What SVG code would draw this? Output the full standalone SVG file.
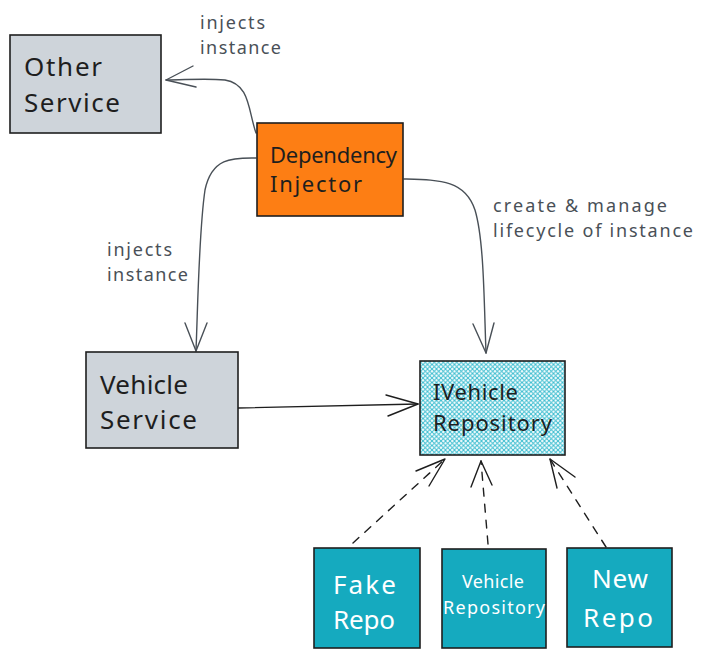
<svg xmlns="http://www.w3.org/2000/svg" width="704" height="670" viewBox="0 0 704 670">
<style>
.box{stroke:#1e1e1e;stroke-width:1.6}
.gray{fill:#ced4da}
.orange{fill:#fd7e14}
.teal{fill:#15aabf}
.t{font-family:"Noto Sans","Liberation Sans",sans-serif;fill:#1e1e1e}
.w{fill:#ffffff}
.lbl{font-family:"Noto Sans","Liberation Sans",sans-serif;fill:#495057;font-size:18px}
.c{fill:none;stroke:#495057;stroke-width:1.4;stroke-linecap:round}
.k{fill:none;stroke:#1e1e1e;stroke-width:1.4;stroke-linecap:round}
.d{stroke-dasharray:8 8}
</style>
<defs>
<pattern id="hatch" width="4.5" height="4.5" patternUnits="userSpaceOnUse">
<rect width="4.5" height="4.5" fill="#ffffff"/>
<path d="M0,4.5 L4.5,0 M-1,1 L1,-1 M3.5,5.5 L5.5,3.5" stroke="#3bbdd0" stroke-width="1"/>
<path d="M0,0 L4.5,4.5 M-1,3.5 L1,5.5 M3.5,-1 L5.5,1" stroke="#3bbdd0" stroke-width="1"/>
</pattern>
</defs>
<g id="connectors">
<path class="c" d="M256,133 C248,110 250,84 225,80 C205,78 185,80 166,80"/>
<path class="c" d="M166,80 L193,66 M166,80 L196,87"/>
<path class="c" d="M256,158 C235,158 212,156 205,190 C199,230 198,300 196,351"/>
<path class="c" d="M196,351 L185,323 M196,351 L207,323"/>
<path class="c" d="M404,179 C440,180 465,180 475,210 C484,240 484,300 486,353"/>
<path class="c" d="M486,353 L473,324 M486,353 L494,323"/>
<path class="k" d="M238,408 L418,404"/>
<path class="k" d="M418,404 L386,395 M418,404 L388,416"/>
<path class="k d" d="M353,543 L445,459"/>
<path class="k" d="M445,459 L416,471 M445,459 L429,486"/>
<path class="k d" d="M488,544 L481,461"/>
<path class="k" d="M481,461 L471,487 M481,461 L492,485"/>
<path class="k d" d="M606,547 L550,459"/>
<path class="k" d="M550,459 L557,488 M550,459 L575,477"/>
</g>
<g id="other-service">
<rect class="box gray" x="10" y="35" width="151" height="98"/>
<text class="t" x="24" y="76" font-size="26" textLength="78">Other</text>
<text class="t" x="24" y="112" font-size="26" textLength="96">Service</text>
</g>
<g id="dependency-injector">
<rect class="box orange" x="257" y="123" width="146" height="93"/>
<text class="t" x="270" y="163" font-size="22" textLength="127">Dependency</text>
<text class="t" x="270" y="192" font-size="22" textLength="92">Injector</text>
</g>
<g id="vehicle-service">
<rect class="box gray" x="86" y="352" width="152" height="96"/>
<text class="t" x="100" y="394" font-size="26" textLength="88">Vehicle</text>
<text class="t" x="100" y="429" font-size="26" textLength="97">Service</text>
</g>
<g id="ivehicle-repository">
<rect class="box" fill="url(#hatch)" x="420" y="361" width="145" height="94"/>
<text class="t" x="433" y="400" font-size="22" textLength="85">IVehicle</text>
<text class="t" x="433" y="431" font-size="22" textLength="119">Repository</text>
</g>
<g id="fake-repo">
<rect class="box teal" x="314" y="548" width="106" height="100"/>
<text class="t w" x="333" y="594" font-size="26" textLength="63">Fake</text>
<text class="t w" x="333" y="629" font-size="26" textLength="62">Repo</text>
</g>
<g id="vehicle-repository">
<rect class="box teal" x="442" y="549" width="104" height="99"/>
<text class="t w" x="462" y="588" font-size="18" textLength="62">Vehicle</text>
<text class="t w" x="443" y="614" font-size="18" textLength="102">Repository</text>
</g>
<g id="new-repo">
<rect class="box teal" x="567" y="548" width="105" height="99"/>
<text class="t w" x="592" y="588" font-size="26" textLength="56">New</text>
<text class="t w" x="583" y="627" font-size="26" textLength="70">Repo</text>
</g>
<g id="labels">
<text class="lbl" x="200" y="29" textLength="65">injects</text>
<text class="lbl" x="200" y="54" textLength="81">instance</text>
<text class="lbl" x="107" y="256" textLength="65">injects</text>
<text class="lbl" x="107" y="281" textLength="81">instance</text>
<text class="lbl" x="493" y="212" textLength="174">create &amp; manage</text>
<text class="lbl" x="493" y="237" textLength="200">lifecycle of instance</text>
</g>
</svg>
